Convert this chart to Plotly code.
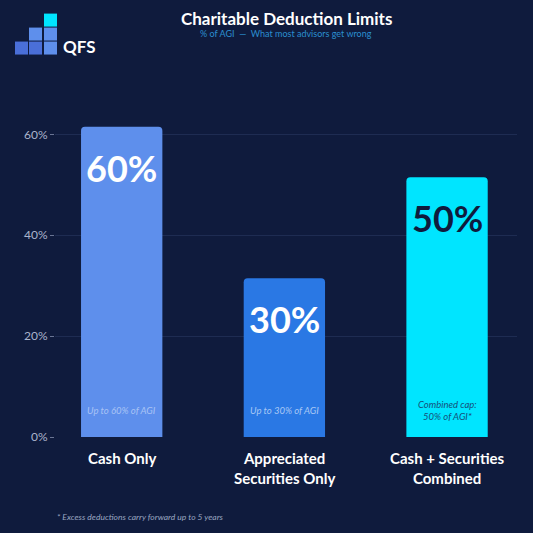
import plotly.graph_objects as go

categories = ["Cash Only", "Appreciated<br>Securities Only", "Cash + Securities<br>Combined"]
bar_heights = [61.5, 31.5, 51.5]
value_labels = ["60%", "30%", "50%"]
bar_colors = ["#5e8fec", "#2a78e4", "#00e5ff"]
value_colors = ["white", "white", "#0f1b3d"]
notes = ["Up to 60% of AGI", "Up to 30% of AGI", "Combined cap:<br>50% of AGI*"]
note_colors = ["#a9c3f5", "#a9c8f5", "#15507a"]
tick_vals = [0, 20, 40, 60]

bg = "#0f1b3d"
x = [0, 1, 2]

fig = go.Figure(go.Bar(
    x=x, y=bar_heights, width=0.5,
    marker=dict(color=bar_colors, line=dict(width=0)),
    hoverinfo="skip",
))

for i, n in enumerate(notes):
    fig.add_annotation(x=x[i], y=bar_heights[i], yshift=-41, text=f"<b>{value_labels[i]}</b>",
                       showarrow=False, yanchor="middle",
                       font=dict(size=36, color=value_colors[i], family="Lato, sans-serif"))
    fig.add_annotation(x=x[i], y=5.3, text=f"<i>{n}</i>", showarrow=False,
                       font=dict(size=9.5, color=note_colors[i], family="Lato, sans-serif"),
                       yanchor="middle")
    fig.add_annotation(x=x[i], y=0, yshift=-10, text=f"<b>{categories[i]}</b>",
                       showarrow=False, yanchor="top",
                       font=dict(size=15, color="white", family="Lato, sans-serif"))

fig.add_annotation(xref="paper", yref="paper", x=0.5, y=1, yshift=66, xanchor="center",
                   yanchor="middle",
                   text="<b>Charitable Deduction Limits</b>", showarrow=False,
                   font=dict(size=17, color="white", family="Lato, sans-serif"))
fig.add_annotation(xref="paper", yref="paper", x=0.5, y=1, yshift=51, xanchor="center",
                   yanchor="middle",
                   text="% of AGI  —  What most advisors get wrong", showarrow=False,
                   font=dict(size=9, color="#2b8fd0", family="Lato, sans-serif"))
fig.add_annotation(xref="paper", yref="paper", x=0.0, y=0, yshift=-87, xanchor="left",
                   text="<i>* Excess deductions carry forward up to 5 years</i>", showarrow=False,
                   font=dict(size=8.5, color="#9aa6c0", family="Lato, sans-serif"))

# logo squares (pixel-ish paper coords)
def px(xv): return (xv - 55) / (517 - 55)
def py(yv): return (437 - yv) / (437 - 83.5)
squares = [(15, 41, "#4a6fd8"), (29, 41, "#4a6fd8"), (44, 41, "#5e8fec"),
           (29, 27, "#5e8fec"), (44, 27, "#5e8fec"), (44, 13, "#00e5ff")]
for sx, sy, c in squares:
    fig.add_shape(type="rect", xref="paper", yref="paper",
                  x0=px(sx), x1=px(sx + 13), y0=py(sy + 13), y1=py(sy),
                  fillcolor=c, line=dict(width=0))
fig.add_annotation(xref="paper", yref="paper", x=px(61), y=py(33), xanchor="left",
                   text="<b>QFS</b>", showarrow=False,
                   font=dict(size=17, color="white", family="Lato, sans-serif"))

fig.update_layout(
    width=533, height=533, paper_bgcolor=bg, plot_bgcolor=bg,
    margin=dict(l=55, r=16, t=83.5, b=96), showlegend=False,
    barcornerradius=4,
    xaxis=dict(range=[-0.41, 2.43], showticklabels=False, showgrid=False, zeroline=False),
    yaxis=dict(range=[0, 70], tickvals=tick_vals, ticktext=[f"{v}%" for v in tick_vals],
               gridcolor="#1e2c52", zeroline=False, tickfont=dict(size=12, color="#aab4cc",
               family="Lato, sans-serif"), ticks="outside", ticklen=4, tickcolor="#6a7594"),
)

fig.write_html("out.html", config={"displayModeBar": False},
               post_script="document.body.style.margin='0';"
               "document.body.style.background='#0f1b3d';")
